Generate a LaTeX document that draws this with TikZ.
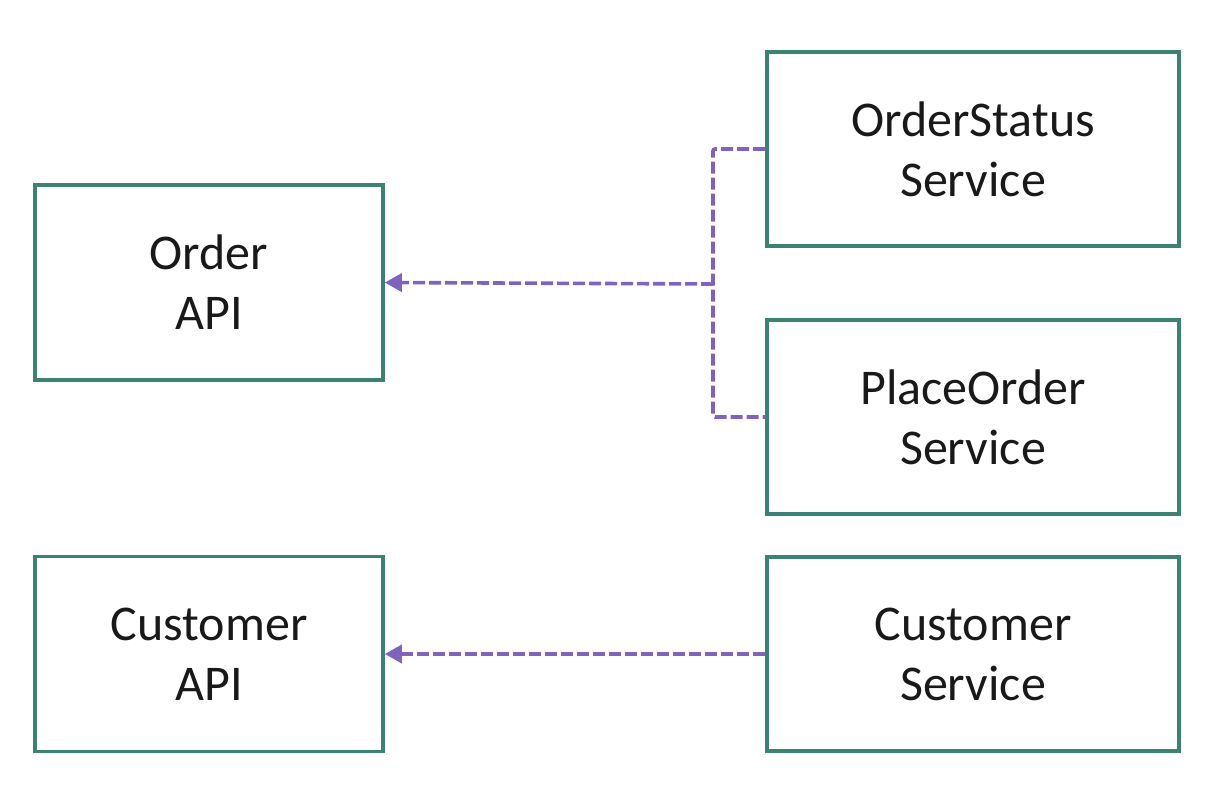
\documentclass[tikz,border=0pt]{standalone}
\usepackage{fontspec}
\setmainfont{Carlito}
\usetikzlibrary{arrows.meta}
\definecolor{boxgreen}{HTML}{3A8272}
\definecolor{deppurple}{HTML}{7F63BF}
\tikzset{
  svc/.style={draw=boxgreen, line width=1.8pt, align=center, text=black!90,
    font=\fontsize{25}{30}\selectfont, inner sep=0pt},
  api/.style={svc, minimum width=174pt, minimum height=97.5pt},
  impl/.style={svc, minimum width=206pt, minimum height=97pt},
  dep/.style={draw=deppurple, line width=1.8pt, dash pattern=on 6pt off 2pt}
}
\begin{document}
\begin{tikzpicture}[x=0.5pt,y=-0.5pt]
      \useasboundingbox (0,0) rectangle (1230,804);
      \draw
        (209,282.5) node[api] (oa){Order\\API}
        (209,654) node[api] (ca){Customer\\API}
        (973,149) node[impl] (os){OrderStatus\\Service}
        (973,417) node[impl] (po){PlaceOrder\\Service}
        (973,654) node[impl] (cs){Customer\\Service};
      \coordinate (jn) at (713,284);
      \begin{scope}[dep]
        \draw[rounded corners=1pt] (os.west) -| (jn) |- (po.west);
        \draw[-{Triangle[length=8.5pt,width=9pt]}] (jn) -- (oa.east);
        \draw[-{Triangle[length=8.5pt,width=9pt]}] (cs.west) -- (ca.east);
      \end{scope}
    \end{tikzpicture}
\end{document}
